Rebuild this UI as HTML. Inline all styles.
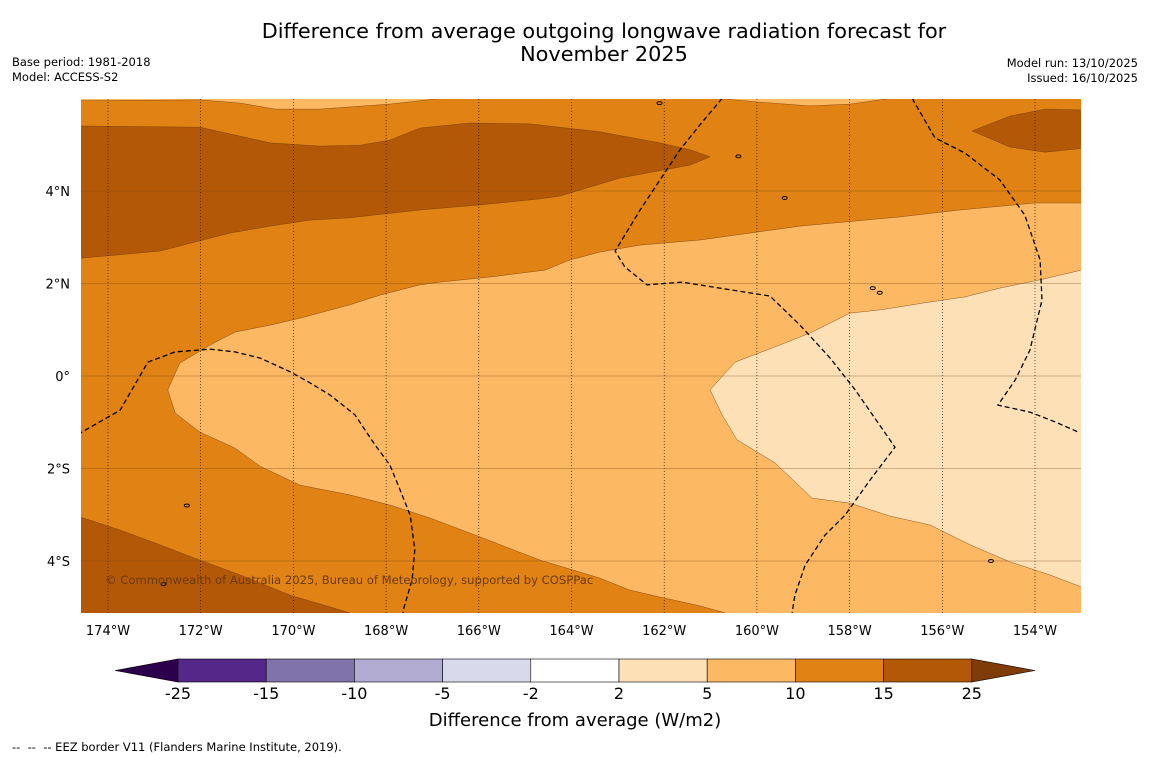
<!DOCTYPE html>
<html><head><meta charset="utf-8">
<style>
body{margin:0;background:#fff;width:1150px;height:758px;overflow:hidden;font-family:"DejaVu Sans","Liberation Sans",sans-serif;}
svg{display:block;font-family:"DejaVu Sans","Liberation Sans",sans-serif;}
</style></head>
<body>
<svg id="chart" width="1150" height="758" xmlns="http://www.w3.org/2000/svg">
<text x="604" y="38" font-size="20.8" text-anchor="middle" fill="#000">Difference from average outgoing longwave radiation forecast for</text>
<text x="604" y="61" font-size="20.8" text-anchor="middle" fill="#000">November 2025</text>
<text x="12" y="66" font-size="11.5">Base period: 1981-2018</text>
<text x="12" y="81" font-size="11.5">Model: ACCESS-S2</text>
<text x="1138" y="67" font-size="11.5" text-anchor="end">Model run: 13/10/2025</text>
<text x="1138" y="82" font-size="11.5" text-anchor="end">Issued: 16/10/2025</text>
<defs><clipPath id="mapclip"><rect x="81" y="99" width="1000" height="514"/></clipPath></defs>
<g id="map" clip-path="url(#mapclip)"></g>
<g id="axes"></g>
<g id="cbar"></g>
<text x="575" y="726" font-size="18" text-anchor="middle">Difference from average (W/m2)</text>
<text x="12" y="751" font-size="11.5" xml:space="preserve">--  --  -- EEZ border V11 (Flanders Marine Institute, 2019).</text>
</svg>
<script>
// axis tick data
const lonTicks=[-174,-172,-170,-168,-166,-164,-162,-160,-158,-156,-154];
const latTicks=[4,2,0,-2,-4];
// contour levels / colors
const cbarLevels=["-25","-15","-10","-5","-2","2","5","10","15","25"];
const cbarColors=["#542788","#8073ac","#b2abd2","#d8daeb","#ffffff","#fee0b6","#fdb863","#e08214","#b35806"];
// contour regions [lon,lat]
const band10to15=[[-175,6.2],[-152.9,6.2],[-152.9,-5.3],[-175,-5.3]];
const topStripLeft=[[-175,6.2],[-175,5.95],[-172.02,5.97],[-171.15,5.90],[-170.40,5.77],[-169.43,5.77],[-167.92,5.88],[-166.84,6.0],[-166.8,6.2]];
const topStripRight=[[-160.80,6.2],[-160.80,6.0],[-159.93,5.92],[-158.85,5.84],[-157.99,5.88],[-157.13,6.0],[-157.1,6.2]];
const region5to10=[[-153.0,3.74],[-154.0,3.74],[-155.62,3.59],[-156.91,3.44],[-159.07,3.24],[-160.15,3.09],[-161.23,2.94],[-162.52,2.83],[-163.39,2.68],[-164.03,2.51],[-164.57,2.29],[-165.76,2.14],[-166.84,2.03],[-167.27,1.97],[-168.13,1.75],[-168.78,1.54],[-169.86,1.25],[-170.50,1.10],[-171.26,0.95],[-171.80,0.67],[-172.45,0.28],[-172.71,-0.30],[-172.55,-0.80],[-172.02,-1.21],[-171.26,-1.56],[-170.72,-1.95],[-169.86,-2.36],[-168.78,-2.57],[-167.92,-2.79],[-167.05,-3.07],[-165.97,-3.48],[-164.68,-3.98],[-163.39,-4.37],[-162.74,-4.63],[-162.09,-4.78],[-161.23,-4.97],[-160.69,-5.12],[-160.69,-5.3],[-152.9,-5.3],[-152.9,3.74]];
const region2to5=[[-153.0,2.29],[-153.89,2.08],[-154.76,1.90],[-155.51,1.71],[-156.27,1.60],[-157.34,1.43],[-157.99,1.36],[-158.85,0.93],[-159.61,0.63],[-160.47,0.30],[-161.01,-0.30],[-160.75,-0.84],[-160.43,-1.38],[-159.61,-1.88],[-158.81,-2.64],[-157.99,-2.75],[-157.13,-3.03],[-156.27,-3.22],[-155.40,-3.65],[-154.54,-4.02],[-153.68,-4.30],[-153.0,-4.56],[-152.9,-4.56],[-152.9,2.29]];
const darkTop=[[-175,5.41],[-172.02,5.38],[-170.50,5.04],[-169.43,4.97],[-168.56,4.99],[-167.92,5.10],[-167.27,5.36],[-166.19,5.47],[-164.89,5.45],[-163.39,5.28],[-162.09,5.04],[-161.44,4.89],[-161.01,4.74],[-161.44,4.56],[-162.95,4.28],[-164.25,3.89],[-164.68,3.83],[-165.97,3.70],[-167.27,3.59],[-168.78,3.42],[-169.64,3.37],[-170.50,3.24],[-171.37,3.09],[-172.88,2.70],[-175,2.51]];
const darkTopRight=[[-155.36,5.30],[-154.54,5.62],[-153.78,5.77],[-152.9,5.75],[-152.9,4.93],[-153.78,4.84],[-154.54,4.95]];
const darkBottomLeft=[[-175,-2.92],[-173.74,-3.33],[-172.88,-3.65],[-172.02,-3.98],[-171.15,-4.30],[-170.07,-4.74],[-168.78,-5.12],[-168.6,-5.3],[-175,-5.3]];
// EEZ borders
const eez1=[[-174.8,-1.35],[-173.74,-0.74],[-173.14,0.30],[-172.55,0.52],[-171.80,0.58],[-171.26,0.52],[-170.72,0.39],[-170.07,0.09],[-169.64,-0.15],[-169.21,-0.41],[-168.67,-0.84],[-168.24,-1.49],[-167.92,-1.92],[-167.70,-2.46],[-167.48,-3.01],[-167.38,-3.76],[-167.44,-4.41],[-167.61,-4.99],[-167.65,-5.2]];
const eez2=[[-160.75,6.0],[-161.23,5.43],[-161.66,4.89],[-162.09,4.24],[-162.52,3.59],[-163.06,2.70],[-162.85,2.36],[-162.37,1.97],[-161.62,2.03],[-160.80,1.90],[-159.72,1.73],[-159.07,1.10],[-158.42,0.39],[-157.88,-0.30],[-157.02,-1.54],[-157.56,-2.25],[-158.10,-3.01],[-158.53,-3.44],[-158.96,-4.09],[-159.18,-4.74],[-159.24,-5.12]];
const eez3=[[-156.65,6.0],[-156.16,5.15],[-155.51,4.82],[-154.76,4.24],[-154.22,3.48],[-153.89,2.51],[-153.85,1.64],[-154.11,0.56],[-154.43,-0.09],[-154.80,-0.63],[-154.11,-0.78],[-153.57,-0.99],[-153.07,-1.21]];
const islands=[[-159.4,3.85],[-157.5,1.9],[-157.35,1.8],[-172.3,-2.8],[-172.8,-4.5],[-162.1,5.9],[-160.4,4.75],[-154.95,-4.0]];

const NS="http://www.w3.org/2000/svg";
const xS=lon=>108+(lon+174)*46.35;
const yS=lat=>376-lat*46.25;
function mk(tag,attrs,parent){const e=document.createElementNS(NS,tag);for(const k in attrs)e.setAttribute(k,attrs[k]);parent.appendChild(e);return e;}
const pts=a=>a.map(p=>xS(p[0]).toFixed(1)+","+yS(p[1]).toFixed(1)).join(" ");
const map=document.getElementById("map");
function poly(a,fill,name){const e=mk("polygon",{points:pts(a),fill:fill,stroke:"#6b3a0a","stroke-width":"0.4"},map);

}
poly(band10to15,"#e08214","contour-10-15");
poly(topStripLeft,"#fdb863","contour-5-10-top-left");
poly(topStripRight,"#fdb863","contour-5-10-top-right");
poly(region5to10,"#fdb863","contour-5-10");
poly(region2to5,"#fee0b6","contour-2-5");
poly(darkTop,"#b35806","contour-15-25-north");
poly(darkTopRight,"#b35806","contour-15-25-northeast");
poly(darkBottomLeft,"#b35806","contour-15-25-southwest");
// gridlines
lonTicks.forEach(l=>{const e=mk("line",{x1:xS(l),x2:xS(l),y1:99,y2:613,stroke:"#000","stroke-width":"0.6","stroke-dasharray":"1,2"},map);

});
latTicks.forEach(l=>{const e=mk("line",{x1:81,x2:1081,y1:yS(l),y2:yS(l),stroke:"#7a4a1a","stroke-width":"0.6","stroke-opacity":"0.7"},map);

});
[eez1,eez2,eez3].forEach(a=>{const e=mk("polyline",{points:pts(a),fill:"none",stroke:"#000","stroke-width":"1.3","stroke-dasharray":"5,3"},map);

});
islands.forEach(p=>{const e=mk("ellipse",{cx:xS(p[0]),cy:yS(p[1]),rx:2.5,ry:1.5,fill:"none",stroke:"#000","stroke-width":"1"},map);

});
const cp=mk("text",{x:105,y:584,"font-size":"11.6",fill:"#6b3a10"},map);cp.textContent="© Commonwealth of Australia 2025, Bureau of Meteorology, supported by COSPPac";


// axes labels
const ax=document.getElementById("axes");
lonTicks.forEach(l=>{const t=mk("text",{x:xS(l),y:635,"font-size":"13","text-anchor":"middle"},ax);t.textContent=Math.abs(l)+"°W";

});
latTicks.forEach(l=>{const t=mk("text",{x:70,y:yS(l)+5,"font-size":"13","text-anchor":"end"},ax);t.textContent=l===0?"0°":Math.abs(l)+"°"+(l>0?"N":"S");

});
// colorbar
const cb=document.getElementById("cbar");
const cx0=178,cw=88.2,cy=659,ch=23;
let e=mk("polygon",{points:`${cx0},${cy} ${cx0},${cy+ch} 115,${cy+ch/2}`,fill:"#2d004b",stroke:"#000","stroke-width":"0.6"},cb);


cbarColors.forEach((c,i)=>{const r=mk("rect",{x:cx0+i*cw,y:cy,width:cw,height:ch,fill:c,stroke:"#000","stroke-width":"0.6"},cb);

});
const xe=cx0+cbarColors.length*cw;
e=mk("polygon",{points:`${xe},${cy} ${xe},${cy+ch} 1035,${cy+ch/2}`,fill:"#7f3b08",stroke:"#000","stroke-width":"0.6"},cb);


cbarLevels.forEach((s,i)=>{const t=mk("text",{x:cx0+i*cw,y:699,"font-size":"16","text-anchor":"middle"},cb);t.textContent=s;

});
</script>
</body></html>
